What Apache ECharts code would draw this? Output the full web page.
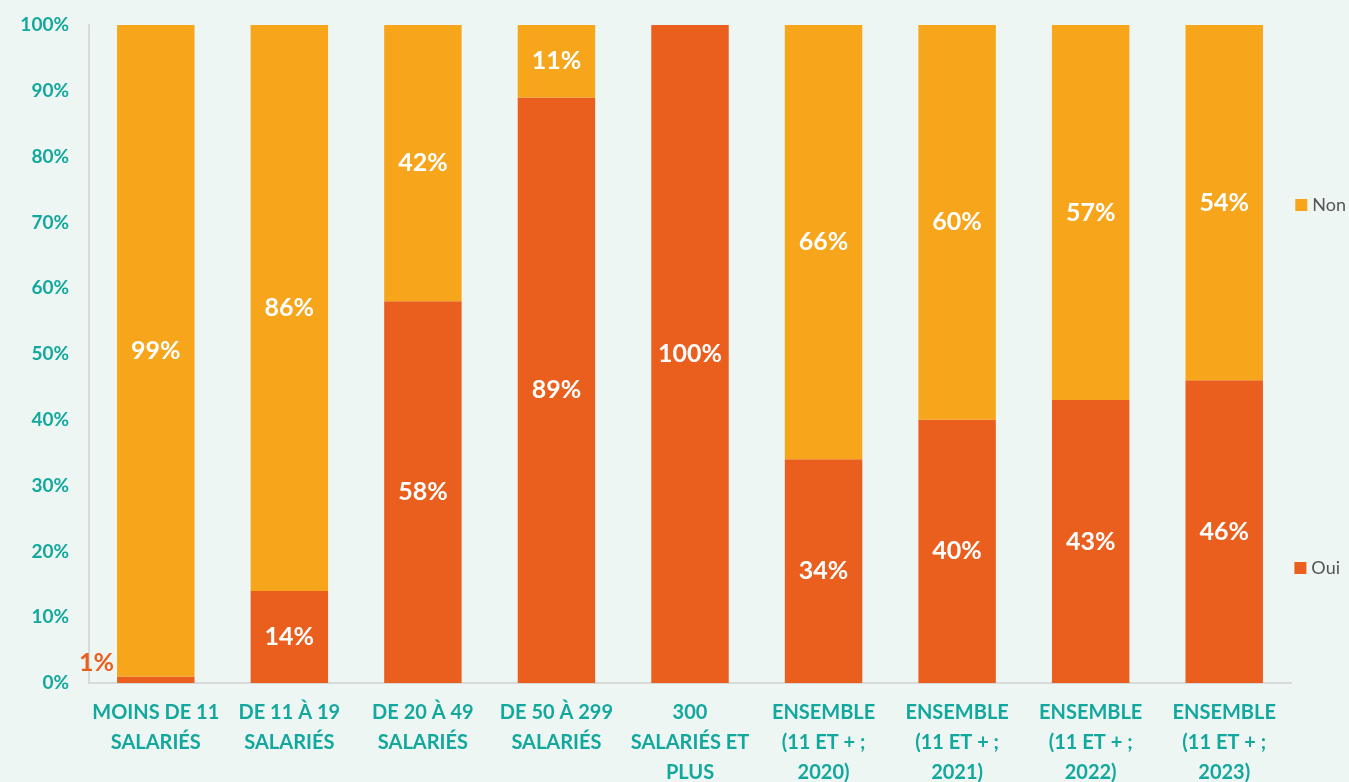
<!DOCTYPE html>
<html><head><meta charset="utf-8">
<script src="https://cdn.jsdelivr.net/npm/echarts@6/dist/echarts.min.js"></script>
<style>html,body{margin:0;padding:0;background:#EEF6F3;}#c{width:1349px;height:782px;}</style>
</head><body><div id="c"></div>
<script>
const categories = ["MOINS DE 11\nSALARIÉS","DE 11 À 19\nSALARIÉS","DE 20 À 49\nSALARIÉS","DE 50 À 299\nSALARIÉS","300\nSALARIÉS ET\nPLUS","ENSEMBLE\n(11 ET + ;\n2020)","ENSEMBLE\n(11 ET + ;\n2021)","ENSEMBLE\n(11 ET + ;\n2022)","ENSEMBLE\n(11 ET + ;\n2023)"];
const oui = [1,14,58,89,100,34,40,43,46];
const non = [99,86,42,11,0,66,60,57,54];
const yTicks = [0,10,20,30,40,50,60,70,80,90,100];

const ORANGE = '#F7A51B', RED = '#EB5F1E', TEAL = '#13A89E';
const FONT = 'Lato';
const chart = echarts.init(document.getElementById('c'));
const ouiData = oui.map((v,i)=> v < 5 ? {value:v,label:{position:'left',color:RED,offset:[2,-17]}} : v);
chart.setOption({
  backgroundColor:'#EEF6F3',
  animation:false,
  grid:{left:89,right:58,top:25,bottom:99,outerBoundsMode:'none',containLabel:false},
  legend:[
    {data:['Non'],right:-2,top:191,orient:'vertical',icon:'rect',itemWidth:12,itemHeight:12,itemGap:8,textStyle:{color:'#555',fontSize:18,fontFamily:FONT}},
    {data:['Oui'],right:4,top:554,orient:'vertical',icon:'rect',itemWidth:12,itemHeight:12,itemGap:8,textStyle:{color:'#555',fontSize:18,fontFamily:FONT}}
  ],
  xAxis:{type:'category',data:categories,
    axisLine:{lineStyle:{color:'#D6DAD9',width:2}},axisTick:{show:false},
    axisLabel:{interval:0,color:TEAL,fontSize:20,fontWeight:'bold',fontFamily:FONT,lineHeight:30,margin:15}},
  yAxis:{type:'value',min:0,max:100,interval:10,
    splitLine:{show:false},
    axisLine:{show:true,lineStyle:{color:'#D6DAD9',width:2}},axisTick:{show:false},
    axisLabel:{color:TEAL,fontSize:19,fontWeight:'bold',fontFamily:FONT,margin:20,formatter:v=>yTicks.includes(v)?v+'%':''}},
  series:[
    {name:'Oui',type:'bar',stack:'s',data:ouiData,barWidth:'58%',itemStyle:{color:RED},
      label:{show:true,position:'inside',color:'#fff',fontSize:25,fontWeight:'bold',fontFamily:FONT,formatter:p=>p.value>0?p.value+'%':''}},
    {name:'Non',type:'bar',stack:'s',data:non,barWidth:'58%',itemStyle:{color:ORANGE},
      label:{show:true,position:'inside',color:'#fff',fontSize:25,fontWeight:'bold',fontFamily:FONT,formatter:p=>p.value>0?p.value+'%':''}}
  ]
});
</script></body></html>
